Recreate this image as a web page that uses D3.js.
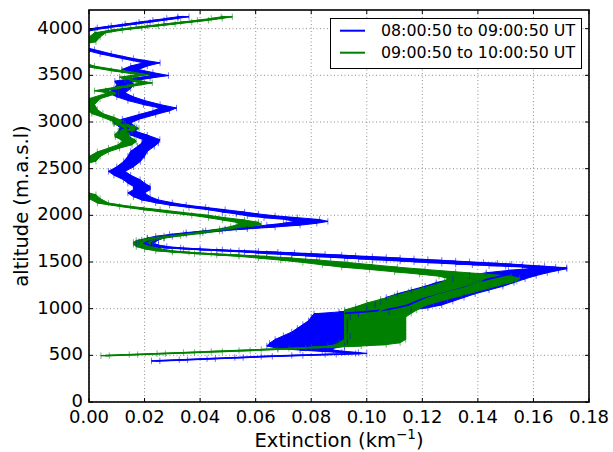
<!DOCTYPE html>
<html><head><meta charset="utf-8">
<script src="https://cdn.jsdelivr.net/npm/d3@7"></script>
<style>body{margin:0;background:#fff}svg{display:block}text{font-family:"DejaVu Sans",sans-serif}</style>
</head><body><div id="c"></div>
<script>
// Each row: [altitude (m), extinction (km^-1), error (km^-1)]
// Series 1: 08:00:50 to 09:00:50 UT (blue)
const blueProfile=[
[440,0.024,0.0015],[452,0.034,0.0015],[464,0.044,0.0015],[476,0.054,0.0015],[488,0.064,0.002],[499,0.075,0.002],[510,0.087,0.002],[520,0.098,0.002],[530,0.094,0.003],[542,0.088,0.004],[556,0.082,0.006],[575,0.078,0.010],
[600,0.078,0.014],[630,0.079,0.014],[670,0.080,0.013],[710,0.082,0.012],[750,0.083,0.010],[790,0.084,0.009],[830,0.085,0.008],[870,0.086,0.007],[910,0.087,0.007],[945,0.089,0.008],[965,0.099,0.009],[985,0.106,0.010],[1010,0.111,0.011],[1040,0.115,0.012],[1080,0.118,0.013],[1120,0.121,0.014],[1160,0.125,0.014],[1200,0.130,0.014],[1240,0.135,0.014],[1280,0.139,0.014],[1320,0.144,0.013],[1355,0.149,0.012],[1385,0.154,0.011],[1410,0.160,0.009],[1428,0.165,0.007],[1438,0.167,0.005],
[1446,0.162,0.006],[1454,0.157,0.007],[1462,0.152,0.008],[1470,0.147,0.009],[1478,0.142,0.010],[1486,0.137,0.010],[1494,0.132,0.010],[1502,0.127,0.010],[1510,0.122,0.010],[1518,0.117,0.010],[1526,0.112,0.010],[1534,0.107,0.010],[1542,0.102,0.010],[1550,0.097,0.010],[1558,0.092,0.010],[1566,0.087,0.009],[1574,0.082,0.009],[1582,0.077,0.008],[1590,0.072,0.008],[1598,0.067,0.007],[1606,0.062,0.006],[1614,0.056,0.005],[1622,0.050,0.004],[1630,0.044,0.004],[1640,0.037,0.003],[1652,0.030,0.003],
[1666,0.025,0.003],[1682,0.022,0.003],[1700,0.020,0.003],[1718,0.021,0.003],[1736,0.022,0.003],[1757,0.024,0.003],[1775,0.027,0.003],[1795,0.032,0.003],[1815,0.038,0.003],[1835,0.045,0.003],[1855,0.053,0.004],[1875,0.062,0.005],[1895,0.070,0.006],[1915,0.076,0.006],[1935,0.080,0.006],[1955,0.077,0.006],[1975,0.069,0.006],[1995,0.062,0.005],[2015,0.057,0.004],[2035,0.052,0.004],[2060,0.046,0.003],[2085,0.039,0.003],[2110,0.032,0.003],[2135,0.027,0.003],[2165,0.022,0.003],[2200,0.019,0.003],[2240,0.017,0.003],[2275,0.019,0.003],[2310,0.019,0.003],[2345,0.017,0.003],[2382,0.0154,0.003],[2430,0.012,0.003],[2471,0.010,0.003],[2520,0.013,0.003],[2578,0.0155,0.003],[2632,0.017,0.003],[2686,0.018,0.003],[2739,0.0205,0.003],[2775,0.022,0.003],[2811,0.0225,0.003],[2860,0.018,0.003],[2900,0.0138,0.003],[2940,0.0142,0.003],[2990,0.012,0.003],[3030,0.015,0.003],[3080,0.021,0.003],[3120,0.026,0.003],[3150,0.0285,0.003],[3187,0.0226,0.003],[3230,0.017,0.003],[3270,0.013,0.003],[3312,0.010,0.003],[3360,0.012,0.003],[3400,0.013,0.003],[3437,0.0123,0.003],[3470,0.019,0.003],[3498,0.0256,0.003],[3530,0.020,0.003],[3562,0.0148,0.003],[3600,0.018,0.003],[3634,0.0226,0.003],[3680,0.014,0.002],[3730,0.006,0.002],[3775,0.0,0.002],[3850,-0.01,0.002],[3925,-0.01,0.002],[3990,0.0005,0.002],[4010,0.005,0.002],[4030,0.010,0.002],[4050,0.015,0.002],[4070,0.020,0.002],[4090,0.025,0.002],[4110,0.030,0.002],[4128,0.034,0.002]
];
// Series 2: 09:00:50 to 10:00:50 UT (green)
const greenProfile=[
[497,0.0058,0.0015],[508,0.016,0.0015],[519,0.026,0.0015],[530,0.036,0.002],[541,0.046,0.002],[552,0.056,0.002],[563,0.065,0.003],[575,0.075,0.003],[587,0.084,0.004],[600,0.092,0.006],[615,0.098,0.009],[635,0.101,0.011],
[670,0.103,0.011],[710,0.103,0.011],[750,0.103,0.011],[790,0.103,0.011],[830,0.103,0.011],[870,0.103,0.011],[910,0.103,0.011],[950,0.104,0.012],[985,0.105,0.013],[1020,0.108,0.012],[1060,0.112,0.012],[1100,0.117,0.012],[1140,0.122,0.012],[1180,0.127,0.012],[1220,0.132,0.012],[1260,0.137,0.012],[1295,0.141,0.013],[1325,0.142,0.013],
[1348,0.139,0.013],[1370,0.131,0.012],[1395,0.121,0.011],[1420,0.111,0.010],[1445,0.101,0.010],[1470,0.093,0.009],[1495,0.085,0.008],[1520,0.076,0.007],[1542,0.067,0.006],[1560,0.059,0.005],[1575,0.050,0.004],[1590,0.041,0.003],[1605,0.033,0.003],[1620,0.027,0.003],[1640,0.023,0.003],[1665,0.020,0.003],[1690,0.019,0.003],[1710,0.019,0.003],[1730,0.020,0.003],[1755,0.024,0.003],[1780,0.030,0.003],[1805,0.037,0.003],[1830,0.044,0.003],[1855,0.050,0.003],[1880,0.055,0.004],[1905,0.058,0.004],[1925,0.057,0.004],[1950,0.052,0.004],[1975,0.046,0.003],[2000,0.040,0.003],[2030,0.031,0.003],[2060,0.0226,0.003],[2095,0.013,0.002],[2132,0.005,0.002],[2180,0.002,0.002],[2221,0.0005,0.002],
[2300,-0.01,0.002],[2400,-0.01,0.002],[2500,-0.01,0.002],[2580,0.0005,0.002],[2630,0.002,0.002],[2680,0.005,0.002],[2720,0.009,0.002],[2757,0.013,0.0025],[2790,0.0145,0.0025],[2811,0.014,0.0025],[2840,0.012,0.0025],[2865,0.0118,0.0025],[2900,0.013,0.0025],[2930,0.0155,0.0025],[2954,0.014,0.0025],[2980,0.011,0.002],[3007,0.0105,0.002],[3050,0.007,0.002],[3090,0.003,0.002],[3133,0.001,0.002],[3187,0.0,0.002],[3250,0.002,0.002],[3312,0.0087,0.002],[3335,0.004,0.002],[3375,0.012,0.002],[3419,0.0208,0.002],[3450,0.015,0.002],[3480,0.013,0.002],[3508,0.0196,0.002],[3550,0.010,0.002],[3598,0.0,0.002],
[3700,-0.01,0.002],[3800,-0.01,0.002],[3860,0.0005,0.002],[3910,0.002,0.002],[3955,0.004,0.002],[3985,0.010,0.002],[4010,0.017,0.002],[4030,0.023,0.002],[4050,0.029,0.002],[4070,0.035,0.002],[4090,0.041,0.002],[4110,0.046,0.002],[4127,0.0496,0.002]
];

const seriesNames=["08:00:50 to 09:00:50 UT","09:00:50 to 10:00:50 UT"];
const seriesColors=["#0000ff","#008000"];
const xTicks=[0,0.02,0.04,0.06,0.08,0.10,0.12,0.14,0.16,0.18];
const yTicks=[0,500,1000,1500,2000,2500,3000,3500,4000];
const xLabel="Extinction (km";
const yLabel="altitude (m.a.s.l)";

const W=613,H=452;
const L=89,R=589,T=10,B=402;
const x=d3.scaleLinear().domain([0,0.18]).range([L,R]);
const y=d3.scaleLinear().domain([0,4200]).range([B,T]);

const svg=d3.select("#c").append("svg").attr("width",W).attr("height",H);
svg.append("defs").append("clipPath").attr("id","clip").append("rect")
  .attr("x",L).attr("y",T).attr("width",R-L).attr("height",B-T);

// grid
const grid=svg.append("g");
xTicks.forEach(t=>grid.append("line").attr("x1",x(t)).attr("x2",x(t)).attr("y1",T).attr("y2",B)
  .attr("stroke","#444").attr("stroke-width",0.6).attr("stroke-dasharray","1,2.5"));
yTicks.forEach(t=>grid.append("line").attr("x1",L).attr("x2",R).attr("y1",y(t)).attr("y2",y(t))
  .attr("stroke","#444").attr("stroke-width",0.6).attr("stroke-dasharray","1,2.5"));

const series=[blueProfile,greenProfile].map((p,i)=>({
  pts:p.map(r=>({a:r[0],v:r[1],e:r[2]})),color:seriesColors[i],name:seriesNames[i]}));

const plot=svg.append("g").attr("clip-path","url(#clip)");
// error bars (lowest layer)
series.forEach(s=>{
  const area=d3.area().y(d=>y(d.a)).x0(d=>x(d.v-d.e)).x1(d=>x(d.v+d.e));
  plot.append("path").attr("d",area(s.pts)).attr("fill",s.color).attr("stroke",s.color).attr("stroke-width",1);
  plot.append("g").selectAll("line").data(s.pts).join("line")
    .attr("x1",d=>x(d.v-d.e)).attr("x2",d=>x(d.v+d.e)).attr("y1",d=>y(d.a)).attr("y2",d=>y(d.a))
    .attr("stroke",s.color).attr("stroke-width",1.2);
});
// data lines and caps
series.forEach(s=>{
  const line=d3.line().x(d=>x(d.v)).y(d=>y(d.a));
  plot.append("path").attr("d",line(s.pts)).attr("fill","none").attr("stroke",s.color).attr("stroke-width",1.8);
  const caps=plot.append("g").attr("stroke",s.color).attr("stroke-width",1).attr("stroke-opacity",0.55);
  s.pts.forEach(d=>{
    [d.v-d.e,d.v+d.e].forEach(v=>caps.append("line").attr("x1",x(v)).attr("x2",x(v))
      .attr("y1",y(d.a)-3.2).attr("y2",y(d.a)+3.2));
  });
});

// ticks inward, all sides
const tk=svg.append("g").attr("stroke","#000").attr("stroke-width",1);
xTicks.forEach(t=>{tk.append("line").attr("x1",x(t)).attr("x2",x(t)).attr("y1",B).attr("y2",B-4);
  tk.append("line").attr("x1",x(t)).attr("x2",x(t)).attr("y1",T).attr("y2",T+4);});
yTicks.forEach(t=>{tk.append("line").attr("x1",L).attr("x2",L+4).attr("y1",y(t)).attr("y2",y(t));
  tk.append("line").attr("x1",R).attr("x2",R-4).attr("y1",y(t)).attr("y2",y(t));});

// frame
svg.append("rect").attr("x",L).attr("y",T).attr("width",R-L).attr("height",B-T)
  .attr("fill","none").attr("stroke","#000").attr("stroke-width",1.6);

// tick labels
svg.append("g").selectAll("text").data(xTicks).join("text")
  .attr("x",d=>x(d)).attr("y",423).attr("text-anchor","middle").attr("font-size",18)
  .text(d=>d3.format(".2f")(d));
svg.append("g").selectAll("text").data(yTicks).join("text")
  .attr("x",83).attr("y",d=>y(d)+5).attr("text-anchor","end").attr("font-size",18)
  .text(d=>d);

// axis labels
const xl=svg.append("text").attr("x",(L+R)/2).attr("y",447).attr("text-anchor","middle").attr("font-size",19.5);
xl.append("tspan").text(xLabel);
xl.append("tspan").attr("font-size",13.5).attr("dy",-8).text("−1");
xl.append("tspan").attr("dy",8).text(")");
svg.append("text").attr("transform",`translate(28,${(T+B)/2}) rotate(-90)`).attr("text-anchor","middle")
  .attr("font-size",19.5).text(yLabel);

// legend
const lg=svg.append("g");
lg.append("rect").attr("x",330.5).attr("y",18.5).attr("width",251).attr("height",50)
  .attr("fill","#fff").attr("stroke","#000").attr("stroke-width",1);
series.forEach((s,i)=>{
  const yy=30.7+i*22;
  lg.append("line").attr("x1",340).attr("x2",365).attr("y1",yy).attr("y2",yy).attr("stroke",s.color).attr("stroke-width",2);
  lg.append("text").attr("x",381).attr("y",yy+5.5).attr("font-size",15.8).text(s.name);
});
</script></body></html>
